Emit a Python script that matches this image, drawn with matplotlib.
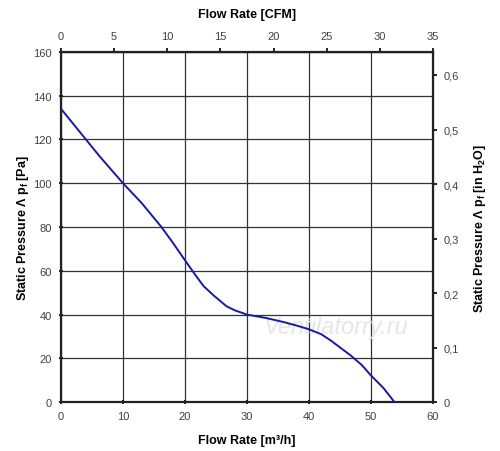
import matplotlib
matplotlib.use('Agg')
import matplotlib.pyplot as plt
from matplotlib.ticker import FuncFormatter, MultipleLocator

plt.rcParams['font.family'] = ['Liberation Sans', 'DejaVu Sans']
plt.rcParams['mathtext.default'] = 'regular'

# flow rate [m3/h] and static pressure [Pa]
flow = [0, 6.2, 10, 13, 16.2, 18, 20, 21.9, 23, 24.6, 26.7, 28, 30,
        33, 35.9, 38, 40, 42, 43.5, 45, 46.7, 48.5, 50, 52, 53.8]
pressure = [134, 112.4, 100, 91, 80, 73, 64.8, 57.2, 53, 48.8, 43.8, 42, 40,
            38.5, 36.6, 35, 33.3, 31, 28.2, 25, 21.4, 17, 12.2, 6.5, 0]

PA_TO_INH2O = 0.0040146
CFM_PER_M3H = 35 / 60

fig = plt.figure(figsize=(5, 4.52), dpi=100)
ax = fig.add_axes([0.122, 0.108, 0.744, 0.775])

ax.plot(flow, pressure, color='#1a1a9c', lw=1.4, zorder=3)

ax.set_xlim(0, 60)
ax.set_ylim(0, 160)
ax.xaxis.set_major_locator(MultipleLocator(10))
ax.yaxis.set_major_locator(MultipleLocator(20))
ax.grid(True, color='#333333', lw=0.9)
for s in ax.spines.values():
    s.set_linewidth(1.6)
    s.set_color('#222222')
ax.tick_params(labelsize=8, labelcolor='#404040', length=3, width=1.2,
               direction='inout', pad=5)

ax.set_xlabel('Flow Rate [m³/h]', fontsize=9, fontweight='bold', labelpad=9)
ax.set_ylabel('Static Pressure Λ p$_f$ [Pa]', fontsize=9, fontweight='bold',
              labelpad=2)

top = ax.secondary_xaxis('top', functions=(lambda x: x * CFM_PER_M3H,
                                           lambda c: c / CFM_PER_M3H))
top.xaxis.set_major_locator(MultipleLocator(5))
top.tick_params(labelsize=8, labelcolor='#404040', length=3, width=1.2, pad=5)
top.set_xlabel('Flow Rate [CFM]', fontsize=9, fontweight='bold', labelpad=10)

right = ax.secondary_yaxis('right', functions=(lambda p: p * PA_TO_INH2O,
                                               lambda h: h / PA_TO_INH2O))
right.yaxis.set_major_locator(MultipleLocator(0.1))
right.yaxis.set_major_formatter(
    FuncFormatter(lambda v, _: '0' if abs(v) < 1e-9 else f'{v:.1f}'.replace('.', ',')))
right.tick_params(labelsize=8, labelcolor='#404040', length=3, width=1.2, pad=5)
right.set_ylabel('Static Pressure Λ p$_f$ [in H$_2$O]', fontsize=9,
                 fontweight='bold', labelpad=9)

ax.text(0.74, 0.215, 'Ventilatorry.ru', transform=ax.transAxes, fontsize=17,
        style='italic', color='#e6e6e6', ha='center', va='center', zorder=2.5)

fig.savefig('out.png', dpi=100)
